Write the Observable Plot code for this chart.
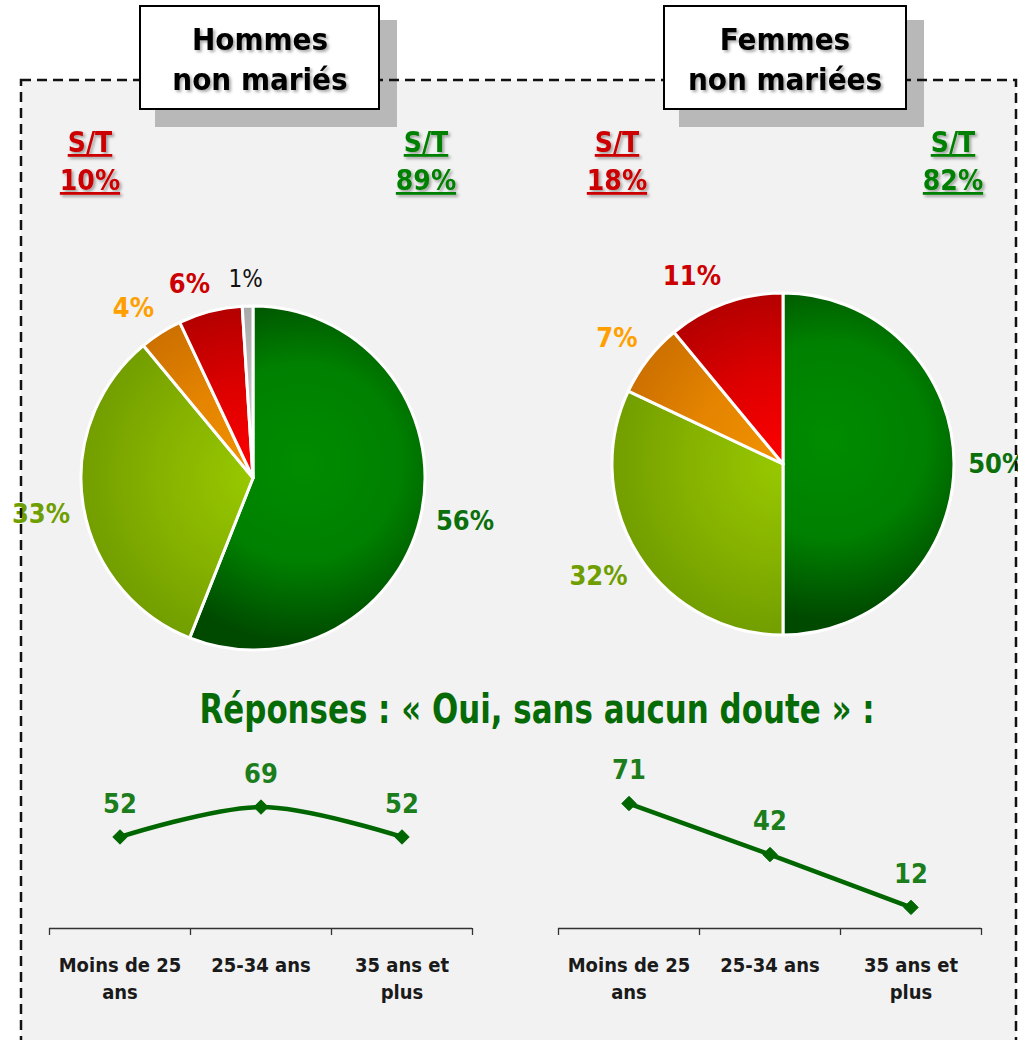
<!DOCTYPE html>
<html>
<head>
<meta charset="utf-8">
<script src="https://cdn.jsdelivr.net/npm/d3@7"></script>
<script src="https://cdn.jsdelivr.net/npm/@observablehq/plot@0.6"></script>
<style>
  html, body { margin: 0; padding: 0; background: #fff; overflow: hidden; }
  #root { position: relative; width: 1018px; height: 1040px; overflow: hidden; }
  .layer { position: absolute; left: 0; top: 0; }
  .chart { position: absolute; }
  .chart svg { overflow: visible; }
  .cond { font-family: "DejaVu Sans Condensed", "DejaVu Sans", sans-serif; font-stretch: condensed; font-weight: bold; }
</style>
</head>
<body>
<div id="root"></div>
<script>
// ---------- data ----------
const groups = ["Hommes", "Femmes"];
const groupSub = ["non mariés", "non mariées"];
const responses = ["Oui, sans aucun doute", "Oui, probablement", "Non, probablement pas", "Non, certainement pas", "Ne sait pas"];
const hommesPct = [56, 33, 4, 6, 1];
const femmesPct = [50, 32, 7, 11, 0];
const stLabel = "S/T";
const stHommes = [10, 89];   // [non, oui]
const stFemmes = [18, 82];
const heading = "Réponses : « Oui, sans aucun doute » :";
const ages = ["Moins de 25\nans", "25-34 ans", "35 ans et\nplus"];
const hommesOui = [52, 69, 52];
const femmesOui = [71, 42, 12];

// ---------- styles ----------
const FONT = '"DejaVu Sans Condensed", "DejaVu Sans", sans-serif';
const sliceStops = [
  ["#008c00", "#008000", "#004a00"],
  ["#98c800", "#86b200", "#729e00"],
  ["#f29200", "#e48400", "#cc7000"],
  ["#ff0000", "#dc0000", "#b40000"],
  ["#cfcfcf", "#c0c0c0", "#a8a8a8"]
];
const labelColors = ["#0b700b", "#6e9e00", "#ffa000", "#cc0000", "#111111"];
const lineGreen = "#006600";
const valueGreen = "#1b7d1b";

const root = document.getElementById("root");

// background layer
const bg = d3.select(root).append("svg").attr("class", "layer").attr("width", 1018).attr("height", 1040);
bg.append("rect").attr("x", 21).attr("y", 80).attr("width", 995).attr("height", 1000).attr("fill", "#f2f2f2");

// ---------- pies ----------
const LABEL_FS = 27;
const clamp1 = v => Math.max(-1, Math.min(1, v));
function pieChart(values, id, cx, cy, R) {
  const rows = values.map((v, k) => ({cat: responses[k], value: v, k})).filter(d => d.value > 0);
  const arcs = d3.pie().sort(null).value(d => d.value)(rows);
  // label anchor on a circle just outside the pie; the label box touches it from outside
  const labels = arcs.map(a => {
    const mid = (a.startAngle + a.endAngle) / 2;
    const txt = a.data.value + "%";
    const fs = a.data.k === 4 ? 24 : LABEL_FS;
    const w = ((txt.length - 1) * 0.626 + 0.9) * fs;   // approx. text width (px)
    const h = 0.8 * fs;                                // approx. text height (px)
    const s = Math.sin(mid), c = Math.cos(mid);
    const px = 1.08 * s + (w / 2) * clamp1(3.5 * s) / R;
    const py = 1.1 * c + (h / 2) * clamp1(3.5 * c) / R;
    return {...a.data, txt, px, py};
  });
  const W = 500, H = 450;
  const render = (index, scales) => {
    const x0 = scales.x(0), y0 = scales.y(0), r = scales.x(1) - x0;
    const g = d3.create("svg:g").attr("transform", `translate(${x0},${y0})`);
    const defs = g.append("defs");
    arcs.forEach((a, i) => {
      const k = a.data.k;
      let gx = 0, gy = 0, gr = r;
      if (k === 0) {
        const ang = (a.startAngle + a.endAngle) / 2 - 0.5;
        gx = 0.3 * r * Math.sin(ang); gy = -0.3 * r * Math.cos(ang); gr = 1.05 * r;
      }
      const grad = defs.append("radialGradient").attr("id", `${id}-${i}`)
        .attr("gradientUnits", "userSpaceOnUse").attr("cx", gx).attr("cy", gy).attr("r", gr);
      grad.append("stop").attr("offset", 0).attr("stop-color", sliceStops[k][0]);
      grad.append("stop").attr("offset", 0.55).attr("stop-color", sliceStops[k][1]);
      grad.append("stop").attr("offset", 1).attr("stop-color", sliceStops[k][2]);
    });
    g.selectAll("path").data(arcs).join("path")
      .attr("d", d3.arc().innerRadius(0).outerRadius(r))
      .attr("fill", (d, i) => `url(#${id}-${i})`)
      .attr("stroke", "#fff").attr("stroke-width", 3).attr("stroke-linejoin", "round");
    return g.node();
  };
  const chart = Plot.plot({
    width: W, height: H,
    marginLeft: W / 2 - R, marginRight: W / 2 - R, marginTop: H / 2 - R, marginBottom: H / 2 - R,
    x: {domain: [-1, 1], axis: null},
    y: {domain: [-1, 1], axis: null},
    color: {type: "identity"},
    style: {background: "transparent", overflow: "visible"},
    marks: [
      render,
      Plot.text(labels.filter(d => d.k !== 4), {
        x: "px", y: "py", text: "txt", fill: d => labelColors[d.k],
        fontSize: LABEL_FS, fontWeight: "bold", fontFamily: FONT
      }),
      Plot.text(labels.filter(d => d.k === 4), {
        x: "px", y: "py", text: "txt", fill: d => labelColors[d.k],
        fontSize: 24, fontWeight: "normal", fontFamily: FONT
      })
    ]
  });
  const div = d3.select(root).append("div").attr("class", "chart")
    .style("left", (cx - W / 2) + "px").style("top", (cy - H / 2) + "px").style("width", W + "px");
  div.node().appendChild(chart);
}
pieChart(hommesPct, "ph", 253, 478, 172);
pieChart(femmesPct, "pf", 783, 464, 171);

// ---------- line charts ----------
function lineChart(values, curve, left) {
  const W = 463, H = 300;
  const rows = values.map((v, i) => ({age: ages[i], value: v, i}));
  const chart = Plot.plot({
    width: W, height: H,
    marginLeft: 20, marginRight: 20, marginTop: 12, marginBottom: 112,
    x: {domain: [0, ages.length]},
    y: {domain: [0, 100], axis: null},
    style: {background: "transparent", overflow: "visible"},
    marks: [
      Plot.ruleY([0], {stroke: "#333", strokeWidth: 1.3}),
      Plot.axisX({ticks: d3.range(ages.length + 1), tickSize: 7, tickFormat: () => "", stroke: "#333", strokeWidth: 1.3}),
      Plot.text(ages, {x: (d, i) => i + 0.5, y: 0, text: d => d, dy: 25, lineAnchor: "top", lineHeight: 1.33,
        fontSize: 20, fontWeight: "bold", fontFamily: FONT, fill: "#1a1a1a"}),
      Plot.line(rows, {x: d => d.i + 0.5, y: "value", stroke: lineGreen, strokeWidth: 4.5, curve}),
      Plot.dot(rows, {x: d => d.i + 0.5, y: "value", symbol: "diamond2", r: 6.5, fill: lineGreen, stroke: lineGreen, strokeWidth: 1}),
      Plot.text(rows, {x: d => d.i + 0.5, y: "value", text: d => String(d.value), dy: -33,
        fontSize: 27, fontWeight: "bold", fontFamily: FONT, fill: valueGreen})
    ]
  });
  const div = d3.select(root).append("div").attr("class", "chart")
    .style("left", left + "px").style("top", "740px").style("width", W + "px");
  div.node().appendChild(chart);
}
lineChart(hommesOui, "catmull-rom", 29);
lineChart(femmesOui, "linear", 538);

// ---------- overlay: frame, boxes, labels ----------
const ov = d3.select(root).append("svg").attr("class", "layer").attr("width", 1018).attr("height", 1040)
  .style("pointer-events", "none");
const defs = ov.append("defs");
const f = defs.append("filter").attr("id", "tshadow").attr("x", "-10%").attr("y", "-20%").attr("width", "130%").attr("height", "150%");
f.append("feDropShadow").attr("dx", 2).attr("dy", 2).attr("stdDeviation", 1.5).attr("flood-color", "#000").attr("flood-opacity", 0.35);

const boxes = [
  {x: 140, y: 6, w: 239, h: 103, cx: 260},
  {x: 664, y: 6, w: 242, h: 103, cx: 785}
];
boxes.forEach(b => ov.append("rect").attr("x", b.x + 15).attr("y", b.y + 14).attr("width", b.w + 3).attr("height", b.h + 4).attr("fill", "#b8b8b8"));
ov.append("rect").attr("x", 21).attr("y", 80).attr("width", 995).attr("height", 1000)
  .attr("fill", "none").attr("stroke", "#111").attr("stroke-width", 2.5).attr("stroke-dasharray", "10 6");
boxes.forEach((b, i) => {
  ov.append("rect").attr("x", b.x).attr("y", b.y).attr("width", b.w).attr("height", b.h)
    .attr("fill", "#fff").attr("stroke", "#000").attr("stroke-width", 2);
  const t = ov.append("text").attr("text-anchor", "middle").attr("class", "cond")
    .attr("font-size", 31).attr("fill", "#000").attr("filter", "url(#tshadow)");
  t.append("tspan").attr("x", b.cx).attr("y", 50).text(groups[i]);
  t.append("tspan").attr("x", b.cx).attr("y", 90).text(groupSub[i]);
});

const stPos = [
  {x: 90, v: stHommes[0], c: "#cc0000"},
  {x: 426, v: stHommes[1], c: "#008000"},
  {x: 617, v: stFemmes[0], c: "#cc0000"},
  {x: 953, v: stFemmes[1], c: "#008000"}
];
stPos.forEach(s => {
  const t = ov.append("text").attr("text-anchor", "middle").attr("class", "cond")
    .attr("font-size", 28).attr("fill", s.c).attr("filter", "url(#tshadow)")
    .attr("text-decoration", "underline");
  t.append("tspan").attr("x", s.x).attr("y", 152).text(stLabel);
  t.append("tspan").attr("x", s.x).attr("y", 190).text(s.v + "%");
});

ov.append("text").attr("x", 537).attr("y", 723).attr("text-anchor", "middle")
  .attr("font-family", '"Liberation Sans Narrow", "DejaVu Sans Condensed", sans-serif')
  .attr("font-weight", "bold").attr("font-size", 40).attr("fill", "#066a06")
  .attr("textLength", 675).attr("lengthAdjust", "spacingAndGlyphs")
  .text(heading);
</script>
</body>
</html>
